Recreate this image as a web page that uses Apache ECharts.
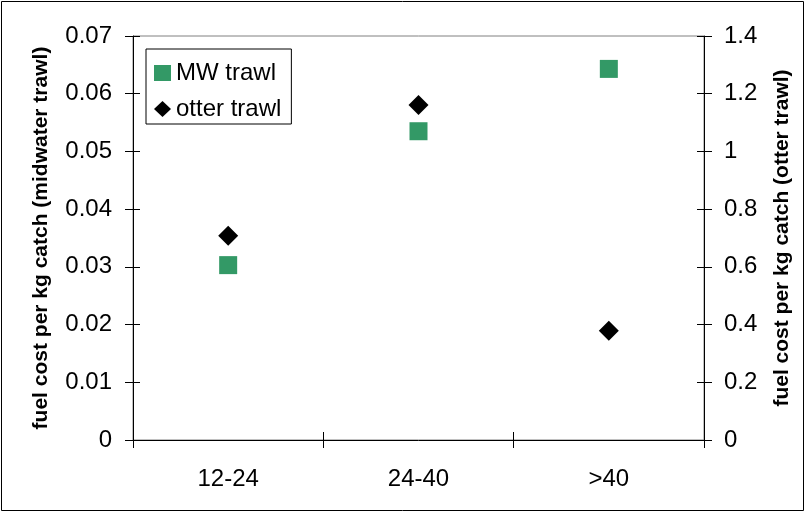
<!DOCTYPE html>
<html>
<head>
<meta charset="utf-8">
<script src="https://cdn.jsdelivr.net/npm/echarts@6/dist/echarts.min.js"></script>
<style>html,body{margin:0;padding:0;background:#fff;}#c{width:805px;height:512px;}</style>
</head>
<body>
<div id="c"></div>
<script>
const categories = ['12-24', '24-40', '>40'];
const mwTrawl = [0.0303, 0.0535, 0.0643];
const otterTrawl = [0.7075, 1.161, 0.3785];
const leftTicks = [0, 0.01, 0.02, 0.03, 0.04, 0.05, 0.06, 0.07];
const rightTicks = [0, 0.2, 0.4, 0.6, 0.8, 1, 1.2, 1.4];

const FONT = '"Liberation Sans", Arial, sans-serif';
const chart = echarts.init(document.getElementById('c'), null, {renderer: 'canvas'});
const grid = {left: 133, right: 101, top: 36, bottom: 72, show: true, borderColor: '#808080', borderWidth: 1, backgroundColor: 'transparent'};
const axisLabelBase = {color: '#000', fontFamily: FONT, fontSize: 24};
chart.setOption({
  animation: false,
  backgroundColor: '#fff',
  grid: grid,
  graphic: [{type: 'rect', shape: {x: 1.5, y: 1.5, width: 802, height: 509}, style: {fill: 'none', stroke: '#000', lineWidth: 1}, silent: true, z: 100}],
  legend: {
    orient: 'vertical', left: 146, top: 49,
    borderColor: '#000', borderWidth: 1, padding: [12, 10, 3, 8],
    itemWidth: 17, itemHeight: 16, itemGap: 12,
    textStyle: {color: '#000', fontFamily: FONT, fontSize: 24, lineHeight: 22},
    data: ['MW trawl', 'otter trawl']
  },
  xAxis: [{
    type: 'category', data: categories, boundaryGap: true,
    axisLine: {lineStyle: {color: '#000', width: 1}},
    axisTick: {show: true, length: 8, lineStyle: {color: '#000'}},
    axisLabel: Object.assign({margin: 27}, axisLabelBase)
  }, {
    type: 'category', data: categories, boundaryGap: true, position: 'bottom', offset: 0,
    axisLine: {show: false}, axisTick: {show: true, inside: true, length: 8, lineStyle: {color: '#000'}},
    axisLabel: {show: false}
  }],
  yAxis: [{
    type: 'value', min: 0, max: 0.07, interval: 0.01, position: 'left',
    axisLine: {show: true, lineStyle: {color: '#000'}},
    axisTick: {show: true, length: 8, lineStyle: {color: '#000'}},
    splitLine: {show: false},
    axisLabel: Object.assign({margin: 21, formatter: v => String(+v.toFixed(2))}, axisLabelBase),
    name: 'fuel cost per kg catch (midwater trawl)', nameLocation: 'middle', nameGap: 81, nameRotate: 90,
    nameTextStyle: {color: '#000', fontFamily: FONT, fontSize: 21, fontWeight: 'bold'}
  }, {
    type: 'value', min: 0, max: 1.4, interval: 0.2, position: 'right',
    axisLine: {show: true, lineStyle: {color: '#000'}},
    axisTick: {show: true, length: 8, lineStyle: {color: '#000'}},
    splitLine: {show: false},
    axisLabel: Object.assign({margin: 20, formatter: v => String(+v.toFixed(1))}, axisLabelBase),
    name: 'fuel cost per kg catch (otter trawl)', nameLocation: 'middle', nameGap: 68, nameRotate: 90,
    nameTextStyle: {color: '#000', fontFamily: FONT, fontSize: 21, fontWeight: 'bold'}
  }, {
    type: 'value', min: 0, max: 0.07, interval: 0.01, position: 'left', offset: 0,
    axisLine: {show: false}, axisTick: {show: true, inside: true, length: 7, lineStyle: {color: '#000'}},
    axisLabel: {show: false}, splitLine: {show: false}
  }, {
    type: 'value', min: 0, max: 1.4, interval: 0.2, position: 'right', offset: 0,
    axisLine: {show: false}, axisTick: {show: true, inside: true, length: 7, lineStyle: {color: '#000'}},
    axisLabel: {show: false}, splitLine: {show: false}
  }],
  series: [{
    name: 'MW trawl', type: 'scatter', yAxisIndex: 0, symbol: 'rect', symbolSize: 18,
    itemStyle: {color: '#339966', opacity: 1}, data: mwTrawl
  }, {
    name: 'otter trawl', type: 'scatter', yAxisIndex: 1, symbol: 'diamond', symbolSize: 20,
    itemStyle: {color: '#000', opacity: 1}, data: otterTrawl, z: 3
  }]
});
</script>
</body>
</html>
